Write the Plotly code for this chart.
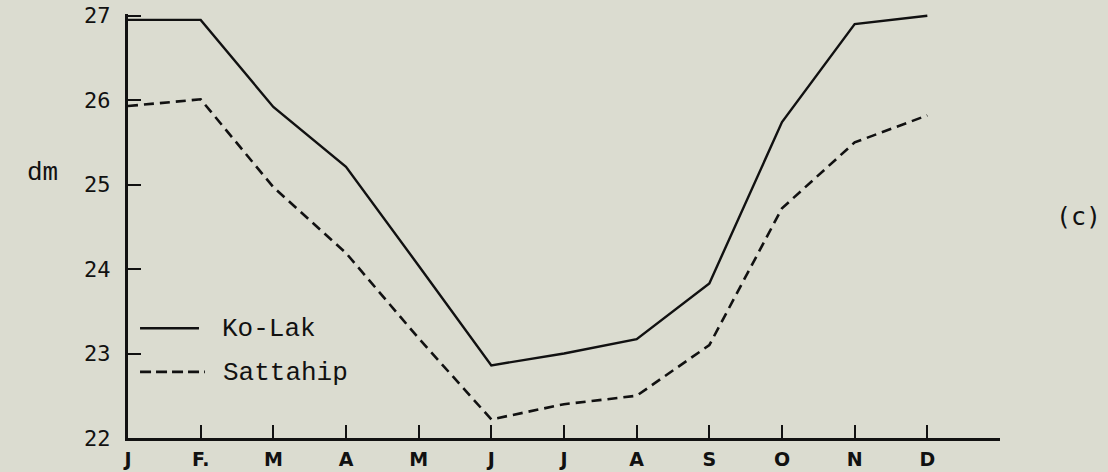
import plotly.graph_objects as go

months = ["J", "F.", "M", "A", "M", "J", "J", "A", "S", "O", "N", "D"]
month_idx = list(range(12))
ko_lak = [26.95, 26.95, 25.92, 25.21, 24.04, 22.86, 23.0, 23.17, 23.83, 25.74, 26.9, 27.0]
sattahip = [25.93, 26.01, 24.97, 24.19, 23.18, 22.22, 22.4, 22.5, 23.1, 24.72, 25.5, 25.82]
y_ticks = [22, 23, 24, 25, 26, 27]

BG = "#dbdcd0"
INK = "#111111"

fig = go.Figure()
fig.add_trace(go.Scatter(x=month_idx, y=ko_lak, mode="lines", name="Ko-Lak",
                         line=dict(color=INK, width=2.4)))
fig.add_trace(go.Scatter(x=month_idx, y=sattahip, mode="lines", name="Sattahip",
                         line=dict(color=INK, width=2.6, dash="10px,6px")))

# manual legend
fig.add_shape(type="line", xref="paper", yref="paper", x0=0.0138, x1=0.0814,
              y0=0.259, y1=0.259, line=dict(color=INK, width=2.6))
fig.add_shape(type="line", xref="paper", yref="paper", x0=0.0138, x1=0.0882,
              y0=0.156, y1=0.156, line=dict(color=INK, width=2.8, dash="11px,5px"))
fig.add_annotation(text="Ko-Lak", xref="paper", yref="paper", x=0.1055, y=0.257,
                   xanchor="left", yanchor="middle", showarrow=False,
                   font=dict(family="Liberation Mono", size=26, color=INK))
fig.add_annotation(text="Sattahip", xref="paper", yref="paper", x=0.107, y=0.154,
                   xanchor="left", yanchor="middle", showarrow=False,
                   font=dict(family="Liberation Mono", size=26, color=INK))

fig.add_annotation(text="dm", xref="paper", yref="paper", x=-0.0975, y=0.625,
                   xanchor="center", yanchor="middle", showarrow=False,
                   font=dict(family="Liberation Mono", size=26, color=INK))
fig.add_annotation(text="(c)", xref="paper", yref="paper", x=1.0895, y=0.523,
                   xanchor="center", yanchor="middle", showarrow=False,
                   font=dict(family="DejaVu Sans Mono", size=25, color=INK))

fig.update_layout(
    width=1108, height=472,
    margin=dict(l=128, r=108, t=14, b=34, autoexpand=False),
    paper_bgcolor=BG, plot_bgcolor=BG,
    showlegend=False,
    xaxis=dict(range=[0, 12], tickmode="array", tickvals=month_idx, ticktext=months,
               automargin=False,
               showgrid=False, zeroline=False, showline=True, linecolor=INK, linewidth=3,
               ticks="inside", ticklen=13, tickwidth=2, tickcolor=INK,
               ticklabelstandoff=2,
               tickfont=dict(family="DejaVu Sans", size=19, color=INK, weight="bold")),
    yaxis=dict(range=[22, 27.02], tickmode="array", tickvals=y_ticks,
               automargin=False,
               showgrid=False, zeroline=False, showline=True, linecolor=INK, linewidth=3,
               ticks="inside", ticklen=13, tickwidth=2, tickcolor=INK,
               ticklabelstandoff=10,
               tickfont=dict(family="DejaVu Sans Mono", size=22, color=INK)),
)

fig.write_html("out.html")
